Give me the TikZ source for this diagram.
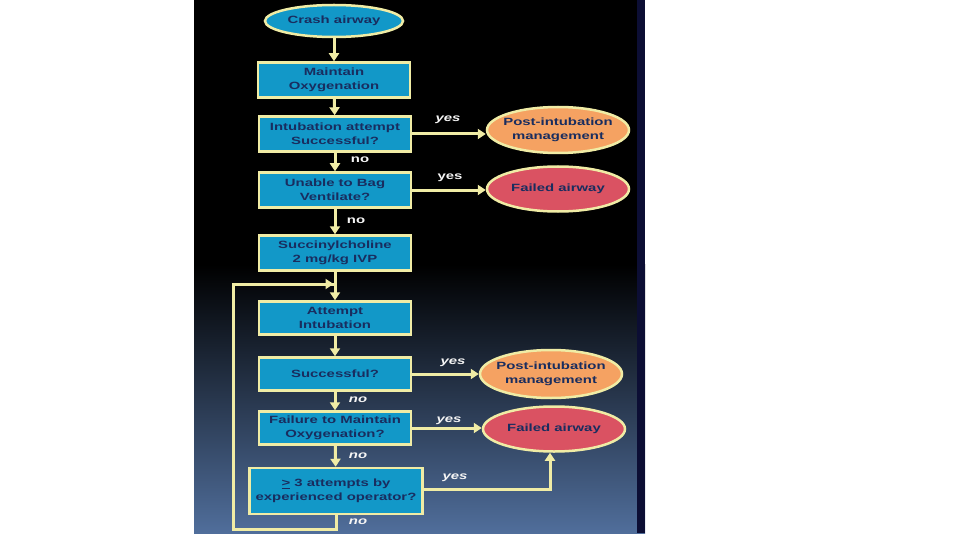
\documentclass[tikz,border=0pt]{standalone}
\usepackage{fontspec}
\setmainfont{Liberation Sans}[FakeStretch=1.42]
\usetikzlibrary{shapes.geometric,arrows.meta}
\definecolor{boxblue}{RGB}{18,152,200}
\definecolor{edgeyellow}{RGB}{240,236,165}
\definecolor{textnavy}{RGB}{25,45,95}
\definecolor{postorange}{RGB}{245,162,98}
\definecolor{failred}{RGB}{218,82,98}
\definecolor{panelblue}{RGB}{80,110,155}
\definecolor{stripnavy}{RGB}{12,14,52}
\tikzset{
  stepbox/.style={rectangle, draw=edgeyellow, line width=2.5pt, fill=boxblue, text=textnavy,
    minimum width=152pt, minimum height=35pt, inner sep=0pt, align=center,
    font=\fontsize{10.5}{14}\selectfont\bfseries},
  startnode/.style={ellipse, draw=edgeyellow, line width=2.5pt, fill=boxblue, text=textnavy,
    minimum width=138pt, minimum height=32pt, inner sep=0pt, inner xsep=-15pt,
    font=\fontsize{10.5}{14}\selectfont\bfseries},
  outcome/.style={ellipse, draw=edgeyellow, line width=2.5pt, text=textnavy,
    minimum width=142pt, minimum height=46pt, inner sep=0pt, inner xsep=-15pt, align=center,
    font=\fontsize{10.5}{14}\selectfont\bfseries},
  flow/.style={draw=edgeyellow, line width=3pt, -{Triangle[width=10pt,length=8pt]}},
  loopline/.style={draw=edgeyellow, line width=3pt},
  answer/.style={text=white!92!gray, font=\fontsize{10.5}{13}\selectfont\bfseries},
  answerit/.style={answer, font=\fontsize{10.5}{13}\selectfont\bfseries\itshape}
}
\begin{document}
\begin{tikzpicture}[x=1pt,y=-1pt]
  \useasboundingbox (0,0) rectangle (960,540);
  \fill[white] (0,0) rectangle (960,540);
  % dark panel
  \fill[black] (194,0) rectangle (645,265);
  \shade[top color=black, bottom color=panelblue] (194,264.5) rectangle (645,533);
  \fill[stripnavy] (637,0) rectangle (645,533);

  % main column
  \node[startnode] (crash) at (334,21) {Crash airway};
  \node[stepbox] (maintain) at (334,80) {Maintain\\Oxygenation};
  \node[stepbox] (intub) at (335,134) {Intubation attempt\\Successful?};
  \node[stepbox] (bag) at (335,190) {Unable to Bag\\Ventilate?};
  \node[stepbox] (succ) at (335,253) {Succinylcholine\\2 mg/kg IVP};
  \node[stepbox, minimum height=33pt] (attempt) at (335,318) {Attempt\\Intubation};
  \node[stepbox, minimum height=33pt] (success) at (335,374) {Successful?};
  \node[stepbox, minimum height=33pt] (failure) at (335,428) {Failure to Maintain\\Oxygenation?};
  \node[stepbox, minimum width=173pt, minimum height=46pt] (tries) at (336,491) {\underline{>} 3 attempts by\\experienced operator?};

  % outcomes
  \node[outcome, fill=postorange] (post1) at (558,130) {Post-intubation\\management};
  \node[outcome, fill=failred, minimum height=45pt] (fail1) at (558,189) {Failed airway};
  \node[outcome, fill=postorange, minimum height=48pt] (post2) at (551,374) {Post-intubation\\management};
  \node[outcome, fill=failred, minimum height=45pt] (fail2) at (554,429) {Failed airway};

  \coordinate (join) at (335,284);
  \coordinate (bend) at (550,489);
  \coordinate (loopa) at (336,529);
  \coordinate (loopb) at (233,529);
  \coordinate (loopc) at (233,284);

  \draw[flow] (crash) -- (maintain);
  \draw[flow] (maintain) -- (intub);
  \draw[flow] (intub) -- (bag);
  \draw[flow] (bag) -- (succ);
  \draw[flow] (succ) -- (attempt);
  \draw[flow] (attempt) -- (success);
  \draw[flow] (success) -- (failure);
  \draw[flow] (failure) -- (tries);
  \draw[flow] (intub.east) -- (post1.west |- intub.east);
  \draw[flow] (bag.east) -- (fail1.west |- bag.east);
  \draw[flow] (success.east) -- (post2.west |- success.east);
  \draw[flow] (failure.east) -- (fail2.west |- failure.east);
  \draw[flow] (tries.east |- bend) -- (bend) -- (fail2.south -| bend);
  \draw[loopline, line join=miter] (tries.south -| loopa) -- (loopa) -- (loopb) -- (loopc) -- (join);
  \draw[flow] (loopc) -- ([xshift=-1.5pt]join);

  % branch labels
  \node[answerit] (yes1) at (448,120) {yes};
  \node[answer] (yes2) at (450,178) {yes};
  \node[answer] (no1) at (360,160) {no};
  \node[answer] (no2) at (356,221) {no};
  \node[answerit] (yes3) at (453,363) {yes};
  \node[answerit] (yes4) at (449,421) {yes};
  \node[answerit] (yes5) at (455,478) {yes};
  \node[answerit] (no3) at (358,400) {no};
  \node[answerit] (no4) at (358,456) {no};
  \node[answerit] (no5) at (358,522) {no};
\end{tikzpicture}
\end{document}
